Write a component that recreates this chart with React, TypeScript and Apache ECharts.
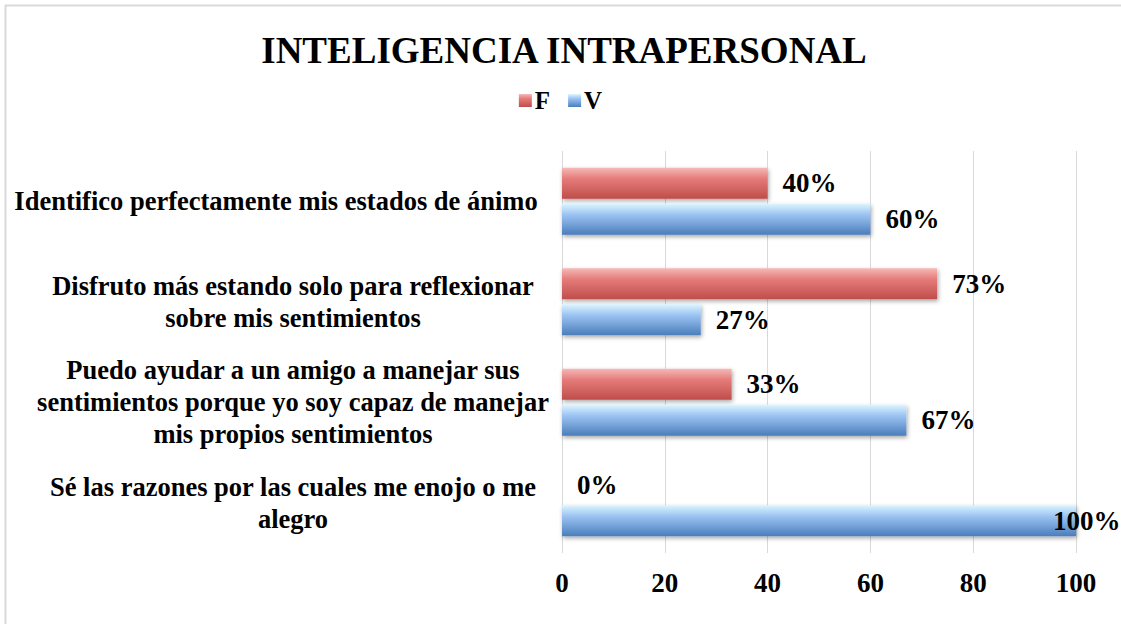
import React, { useEffect, useRef } from "react";
import * as echarts from "echarts";

const titleText = "INTELIGENCIA INTRAPERSONAL";
const categories = [
  "Identifico perfectamente mis estados de ánimo",
  "Disfruto más estando solo para reflexionar\nsobre mis sentimientos",
  "Puedo ayudar a un amigo a manejar sus\nsentimientos porque yo soy capaz de manejar\nmis propios sentimientos",
  "Sé las razones por las cuales me enojo o me\nalegro",
];
const seriesF = [40, 73, 33, 0];
const seriesV = [60, 27, 67, 100];
const xTicks = [0, 20, 40, 60, 80, 100];

const FONT = "'Liberation Serif', 'Times New Roman', serif";

export default function App() {
  const ref = useRef<HTMLDivElement>(null);
  useEffect(() => {
    if (!ref.current) return;
    const chart = echarts.init(ref.current, undefined, { renderer: "svg" });
    const redGrad = new echarts.graphic.LinearGradient(0, 0, 0, 1, [
      { offset: 0, color: "#f6b9b7" },
      { offset: 0.35, color: "#e57c7a" },
      { offset: 1, color: "#bf4d4a" },
    ]);
    const blueGrad = new echarts.graphic.LinearGradient(0, 0, 0, 1, [
      { offset: 0, color: "#dcf5ff" },
      { offset: 0.35, color: "#9cc4f3" },
      { offset: 1, color: "#4a7dbb" },
    ]);
    const labelStyle = {
      show: true,
      position: "right",
      distance: 15,
      fontFamily: FONT,
      fontWeight: "bold",
      fontSize: 27,
      color: "#000",
      formatter: (p: any) => p.value + "%",
    };
    const barShadow = {
      shadowBlur: 4,
      shadowColor: "rgba(0,0,0,0.35)",
      shadowOffsetY: 2,
      shadowOffsetX: 1,
    };
    const yLabelStyle = {
      align: "center",
      fontFamily: FONT,
      fontWeight: "bold",
      fontSize: 26.5,
      lineHeight: 32,
      color: "#000",
    };
    chart.setOption({
      animation: false,
      backgroundColor: "#fff",
      title: {
        text: titleText,
        left: 559,
        textAlign: "center",
        top: 27,
        textStyle: { fontFamily: FONT, fontWeight: "bold", fontSize: 37, color: "#000" },
      },
      legend: {
        data: ["F", "V"],
        left: "center",
        top: 83,
        itemWidth: 13,
        itemHeight: 13,
        itemGap: 18,
        icon: "rect",
        textStyle: { fontFamily: FONT, fontWeight: "bold", fontSize: 25, color: "#000", padding: [0, 0, 0, -2] },
      },
      graphic: [
        {
          type: "rect",
          shape: { x: 5.5, y: 5.5, width: 1300, height: 800 },
          style: { fill: "none", stroke: "#d9d9d9", lineWidth: 2 },
          silent: true,
        },
      ],
      grid: { left: 562, right: 45, top: 151, bottom: 71, containLabel: false, outerBoundsMode: "none" },
      xAxis: {
        type: "value",
        min: xTicks[0],
        max: xTicks[xTicks.length - 1],
        interval: 20,
        axisLine: { show: false },
        axisTick: { show: false },
        splitLine: { show: true, lineStyle: { color: "#d9d9d9", width: 1 } },
        axisLabel: {
          margin: 16,
          fontFamily: FONT,
          fontWeight: "bold",
          fontSize: 27,
          color: "#000",
        },
      },
      yAxis: {
        type: "category",
        inverse: true,
        data: categories.map((c, i) =>
          i === 0 ? { value: c, textStyle: { ...yLabelStyle, padding: [0, 34, 0, 0] } } : c
        ),
        axisLine: { show: false },
        axisTick: { show: false },
        axisLabel: {
          margin: 269,
          ...yLabelStyle,
        },
      },
      series: [
        {
          name: "F",
          type: "bar",
          data: seriesF,
          barWidth: 31,
          barGap: "16%",
          itemStyle: { color: redGrad, ...barShadow },
          label: labelStyle,
        },
        {
          name: "V",
          type: "bar",
          data: seriesV.map((v) =>
            v === 100 ? { value: v, label: { offset: [-38, 0] } } : v
          ),
          barWidth: 31,
          itemStyle: { color: blueGrad, ...barShadow },
          label: labelStyle,
        },
      ],
    });
    return () => chart.dispose();
  }, []);
  return (
    <div
      ref={ref}
      style={{ position: "absolute", left: 0, top: 0, width: 1121, height: 624 }}
    />
  );
}
